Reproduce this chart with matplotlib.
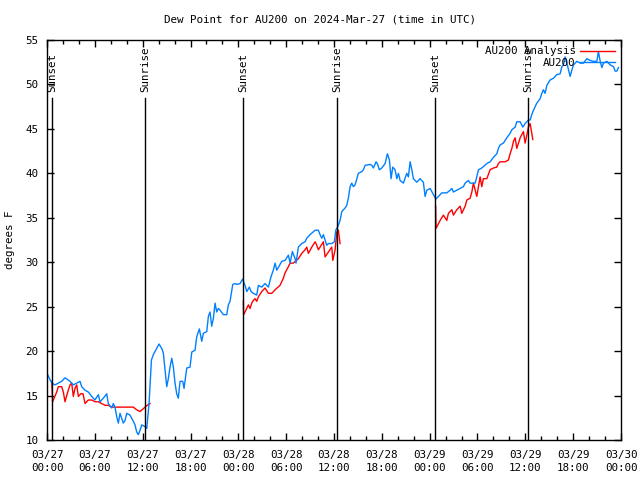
import matplotlib
matplotlib.use('Agg')
import matplotlib.pyplot as plt

# hours since 2024-03-27 00:00 UTC
obs_hours = [0.0, 0.59, 1.0, 1.42, 1.84, 2.26, 2.89, 3.3, 3.73, 4.14, 4.35, 4.77, 5.18, 5.61,
             6.02, 6.44, 6.65, 7.06, 7.49, 7.69, 8.12, 8.32, 8.53, 8.75, 8.95, 9.16, 9.57,
             9.79, 10.0, 10.41, 10.83, 11.04, 11.25, 11.46, 11.67, 11.88, 12.3, 12.51, 12.8,
             13.1, 13.34, 13.76, 14.05, 14.39, 14.59, 14.81, 15.02, 15.22, 15.43, 15.65,
             15.85, 16.06, 16.27, 16.47, 16.69, 17.03, 17.19, 17.53, 17.94, 18.16, 18.57,
             18.78, 19.11, 19.41, 19.61, 20.04, 20.24, 20.45, 20.66, 20.87, 21.08, 21.29,
             21.49, 21.71, 22.12, 22.55, 22.75, 22.96, 23.3, 23.59, 23.8, 24.22, 24.53,
             24.84, 25.06, 25.38, 25.6, 25.88, 26.31, 26.51, 26.94, 27.35, 27.77, 28.11,
             28.39, 28.61, 28.82, 29.45, 29.86, 30.28, 30.49, 30.78, 31.12, 31.24, 31.53,
             31.96, 32.37, 32.58, 33.0, 33.63, 34.04, 34.25, 34.47, 34.67, 34.88, 35.09,
             35.29, 35.72, 36.05, 36.22, 36.47, 36.76, 36.98, 37.39, 37.6, 37.8, 38.02,
             38.23, 38.43, 38.64, 39.06, 39.49, 39.69, 39.9, 40.53, 40.74, 40.94, 41.28,
             41.44, 41.69, 41.99, 42.41, 42.7, 42.95, 43.16, 43.37, 43.66, 43.88, 44.08,
             44.29, 44.7, 45.13, 45.33, 45.55, 45.76, 45.96, 46.39, 46.8, 47.21, 47.43,
             47.64, 48.06, 48.47, 48.77, 49.1, 49.52, 50.15, 50.56, 50.78, 50.98, 51.82,
             52.23, 52.45, 52.86, 53.07, 53.7, 53.91, 54.12, 54.54, 55.17, 55.58, 56.0,
             56.42, 56.62, 56.84, 57.25, 57.68, 58.09, 58.31, 58.72, 58.93, 59.35, 59.69,
             59.97, 60.39, 60.6, 60.81, 61.02, 61.44, 61.86, 62.07, 62.27, 62.48, 62.7,
             63.11, 63.53, 63.95, 64.37, 64.58, 64.78, 64.99, 65.21, 65.62, 65.83, 66.04,
             66.46, 66.88, 67.29, 67.72, 68.13, 68.55, 68.97, 69.17, 69.39, 69.6, 69.8,
             70.23, 70.64, 71.06, 71.27, 71.48, 71.68]
obs_dewp = [17.5, 16.4, 16.2, 16.4, 16.6, 17.0, 16.6, 16.2, 16.4, 16.6, 16.0, 15.6, 15.4, 14.9,
            14.5, 15.1, 14.3, 14.7, 15.2, 14.1, 13.6, 14.1, 13.7, 12.6, 11.9, 13.0, 11.9,
            12.2, 13.0, 12.8, 12.1, 11.7, 10.9, 10.6, 11.1, 11.7, 11.5, 11.3, 14.1,
            19.0, 19.6, 20.3, 20.8, 20.3, 19.8, 17.9, 16.0, 16.9, 18.2, 19.2,
            18.2, 16.4, 15.2, 14.7, 16.6, 16.6, 15.8, 18.1, 18.2, 19.9, 20.1,
            21.6, 22.5, 21.1, 22.0, 22.2, 23.9, 24.4, 22.8, 23.7, 25.4, 24.4,
            24.8, 24.6, 24.1, 24.1, 25.2, 25.6, 27.5, 27.6, 27.5, 27.6, 28.1,
            27.4, 26.7, 27.2, 26.7, 26.5, 26.3, 27.4, 27.2, 27.6, 27.2, 28.4,
            29.1, 29.9, 29.1, 30.1, 30.2, 30.8, 29.9, 31.2, 30.4, 29.9, 31.7,
            32.1, 32.3, 32.7, 33.1, 33.6, 33.6, 33.1, 32.7, 33.1, 32.5, 31.9,
            32.1, 32.1, 32.3, 33.6, 34.0, 34.7, 35.7, 36.1, 36.4, 37.2, 38.5,
            38.9, 38.5, 38.7, 40.0, 40.2, 40.4, 40.9, 41.0, 40.9, 40.6, 41.3,
            41.1, 40.4, 40.6, 41.1, 42.2, 41.5, 39.4, 40.7, 40.4, 39.4, 40.0,
            39.2, 38.9, 40.0, 39.6, 41.3, 40.4, 39.4, 39.0, 39.4, 39.0, 37.4,
            38.1, 38.3, 37.6, 37.1, 37.4, 37.8, 37.8, 38.1, 38.3, 37.9, 38.3,
            38.5, 38.9, 39.2, 38.9, 38.9, 39.6, 40.4, 40.6, 41.1, 41.3, 41.8,
            42.2, 42.8, 43.2, 43.4, 44.0, 44.5, 44.9, 45.2, 45.8, 45.8, 45.2,
            45.6, 46.0, 46.0, 46.6, 47.1, 47.9, 48.4, 49.0, 49.4, 49.0, 49.9,
            50.5, 50.7, 51.1, 51.2, 52.0, 52.2, 53.1, 52.4, 50.9, 51.6, 52.2,
            52.6, 52.4, 52.4, 52.9, 52.7, 52.6, 52.6, 53.7, 52.6, 51.9, 52.4,
            52.6, 52.2, 52.0, 51.5, 51.5, 51.9]

# analysis, three overnight segments
ana1_hours = [0.6, 0.7, 1.22, 1.42, 1.84, 2.05, 2.26, 2.6, 2.89, 3.1, 3.3, 3.51, 3.73, 3.93,
              4.23, 4.52, 4.77, 5.18, 5.61, 6.02, 6.44, 6.86, 7.28, 7.69, 8.12, 8.53, 9.37,
              9.79, 10.41, 10.83, 11.25, 11.67, 12.3, 12.71, 12.92]
ana1_dewp = [16.6, 14.3, 15.4, 16.0, 16.0, 15.4, 14.3, 15.4, 16.2, 16.4, 14.9, 15.8, 16.2, 14.9,
             15.2, 15.2, 14.1, 14.5, 14.5, 14.3, 14.3, 14.1, 13.9, 13.9, 13.7, 13.7, 13.7,
             13.7, 13.7, 13.7, 13.4, 13.2, 13.7, 14.0, 14.1]
ana2_hours = [24.63, 24.66, 24.84, 25.26, 25.47, 25.68, 25.88, 26.1, 26.31, 26.51, 26.94, 27.35,
              27.77, 28.19, 28.61, 29.23, 29.65, 29.86, 30.28, 30.49, 30.9, 31.53, 31.96,
              32.37, 32.58, 32.79, 33.21, 33.63, 33.84, 34.04, 34.67, 34.88, 35.72, 35.85,
              36.14, 36.35, 36.55, 36.76]
ana2_dewp = [25.7, 24.1, 24.4, 25.2, 24.8, 25.4, 25.7, 25.9, 25.6, 26.1, 26.7, 27.1,
             26.5, 26.5, 26.9, 27.4, 28.2, 28.8, 29.5, 29.9, 29.9, 30.4, 31.0,
             31.4, 31.7, 31.0, 31.7, 32.3, 31.9, 31.4, 32.3, 30.6, 31.7, 30.2,
             31.4, 33.4, 33.6, 32.1]
ana3_hours = [48.75, 48.8, 49.31, 49.72, 50.15, 50.35, 50.78, 50.98, 51.4, 51.82, 52.03, 52.45,
              52.66, 53.07, 53.29, 53.49, 53.91, 54.33, 54.54, 54.74, 55.17, 55.58, 56.0,
              56.42, 56.62, 56.84, 57.47, 57.88, 58.09, 58.31, 58.51, 58.72, 58.93, 59.35,
              59.76, 59.97, 60.19, 60.39, 60.6, 60.81, 60.94]
ana3_dewp = [36.3, 33.8, 34.7, 35.3, 34.7, 35.5, 35.9, 35.3, 35.9, 36.3, 35.5, 36.3,
             37.0, 37.2, 37.9, 38.9, 37.4, 39.6, 38.5, 39.4, 39.4, 40.4, 40.6,
             40.7, 41.1, 41.3, 41.3, 41.5, 42.2, 42.8, 43.6, 44.0, 42.8, 44.0,
             44.7, 43.4, 44.3, 45.2, 45.6, 44.5, 43.8]

sun_hours = [0.63, 12.33, 24.63, 36.42, 48.72, 60.39]
sun_labels = ['Sunset', 'Sunrise', 'Sunset', 'Sunrise', 'Sunset', 'Sunrise']

tick_hours = list(range(0, 73, 6))
tick_labels = ['03/27\n00:00', '03/27\n06:00', '03/27\n12:00', '03/27\n18:00',
               '03/28\n00:00', '03/28\n06:00', '03/28\n12:00', '03/28\n18:00',
               '03/29\n00:00', '03/29\n06:00', '03/29\n12:00', '03/29\n18:00',
               '03/30\n00:00']

plt.rcParams['font.family'] = 'DejaVu Sans Mono'
fs = 7.8

fig = plt.figure(figsize=(6.4, 4.8), dpi=100)
ax = fig.add_axes([47 / 640, 40 / 480, 574 / 640, 400 / 480])

red = '#ff0000'
blue = '#0080ff'
ax.plot(ana1_hours, ana1_dewp, color=red, lw=1, label='AU200 Analysis')
ax.plot(ana2_hours, ana2_dewp, color=red, lw=1)
ax.plot(ana3_hours, ana3_dewp, color=red, lw=1)
ax.plot(obs_hours, obs_dewp, color=blue, lw=1, label='AU200')

for h, lab in zip(sun_hours, sun_labels):
    ax.plot([h, h], [10, 48.5], color='black', lw=1)
    ax.text(h, 49.1, lab, rotation=90, ha='center', va='bottom', fontsize=fs)

ax.set_xlim(0, 72)
ax.set_ylim(10, 55)
ax.set_xticks(tick_hours)
ax.set_xticklabels(tick_labels, fontsize=fs, linespacing=1.45)
ax.set_xticks(range(0, 73, 2), minor=True)
ax.set_yticks(range(10, 56, 5))
ax.tick_params(axis='y', labelsize=fs, pad=6)
ax.tick_params(axis='x', pad=7)
ax.tick_params(which='both', direction='in', top=True, right=True, width=1)
ax.tick_params(which='major', length=5)
ax.tick_params(which='minor', length=3)
for s in ax.spines.values():
    s.set_linewidth(1)

ax.set_ylabel('degrees F', fontsize=fs)
ax.yaxis.set_label_coords(-0.055, 0.5)
fig.text(0.5, 1 - 20 / 480, 'Dew Point for AU200 on 2024-Mar-27 (time in UTC)',
         ha='center', va='center', fontsize=fs)

ax.legend(loc='upper right', frameon=False, markerfirst=False, fontsize=fs,
          handlelength=3.2, handletextpad=0.4, labelspacing=0.15,
          borderaxespad=0.2, bbox_to_anchor=(1.0, 1.0))

fig.savefig('out.png', dpi=100)
